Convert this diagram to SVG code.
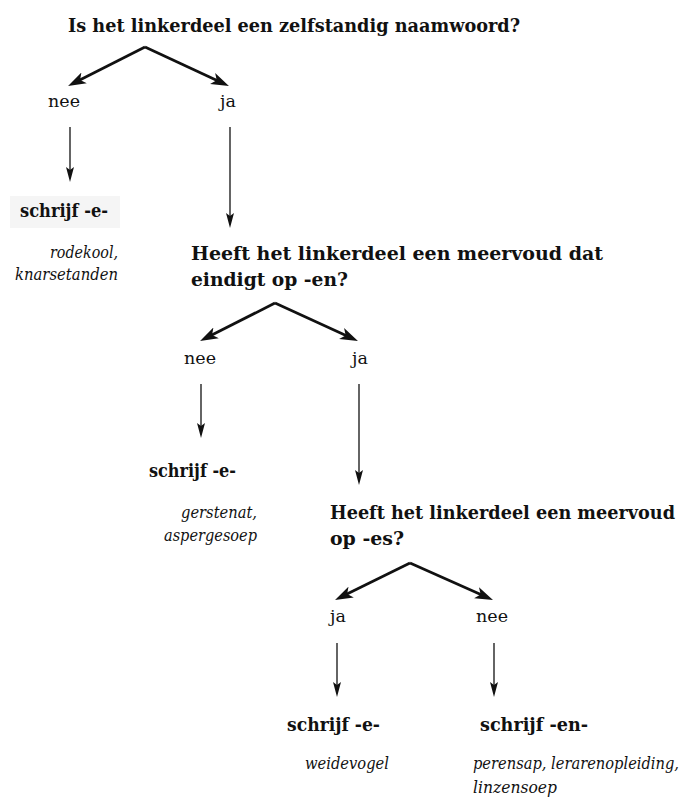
<svg xmlns="http://www.w3.org/2000/svg" width="686" height="803" viewBox="0 0 686 803">
<style>
.q{font-family:"DejaVu Serif Condensed","DejaVu Serif","Liberation Serif",serif;font-stretch:condensed;font-weight:bold;font-size:19px;fill:#111}
.r{font-family:"DejaVu Serif","Liberation Serif",serif;font-size:17.5px;fill:#111}
.i{font-family:"DejaVu Serif Condensed","DejaVu Serif","Liberation Serif",serif;font-stretch:condensed;font-style:italic;font-size:16.5px;fill:#111}
.thick{stroke:#111;stroke-width:2.7;fill:none;marker-end:url(#big)}
.thin{stroke:#111;stroke-width:1.3;fill:none;marker-end:url(#small)}
</style>
<defs>
<marker id="big" markerUnits="userSpaceOnUse" markerWidth="18" markerHeight="13" refX="12" refY="6.5" orient="auto">
<path d="M0,0.5 L18,6.5 L0,12.5 L4.5,6.5 z" fill="#111"/>
</marker>
<marker id="small" markerUnits="userSpaceOnUse" markerWidth="15" markerHeight="9" refX="10" refY="4.5" orient="auto">
<path d="M0,0.5 L15,4.5 L0,8.5 L3,4.5 z" fill="#111"/>
</marker>
</defs>
<rect width="686" height="803" fill="#fff"/>
<g id="q1"><text class="q" x="68" y="32" textLength="452" lengthAdjust="spacingAndGlyphs">Is het linkerdeel een zelfstandig naamwoord?</text></g>
<g id="nee1"><text class="r" x="64" y="107" text-anchor="middle">nee</text></g>
<g id="ja1"><text class="r" x="228" y="107" text-anchor="middle">ja</text></g>
<g id="e1"><rect x="10" y="196" width="110" height="32" fill="#f5f5f5"/><text class="q" x="20" y="217" textLength="88" lengthAdjust="spacingAndGlyphs">schrijf -e-</text></g>
<g id="ex1"><text class="i" x="118" y="258" text-anchor="end" textLength="68" lengthAdjust="spacingAndGlyphs">rodekool,</text><text class="i" x="118" y="280" text-anchor="end" textLength="103" lengthAdjust="spacingAndGlyphs">knarsetanden</text></g>
<g id="q2"><text class="q" x="191" y="260" textLength="412" lengthAdjust="spacingAndGlyphs">Heeft het linkerdeel een meervoud dat</text><text class="q" x="191" y="286" textLength="157" lengthAdjust="spacingAndGlyphs">eindigt op -en?</text></g>
<g id="nee2"><text class="r" x="200" y="364" text-anchor="middle">nee</text></g>
<g id="ja2"><text class="r" x="360" y="364" text-anchor="middle">ja</text></g>
<g id="e2"><text class="q" x="149" y="477" textLength="87" lengthAdjust="spacingAndGlyphs">schrijf -e-</text></g>
<g id="ex2"><text class="i" x="257" y="518" text-anchor="end" textLength="76" lengthAdjust="spacingAndGlyphs">gerstenat,</text><text class="i" x="257" y="541" text-anchor="end" textLength="93" lengthAdjust="spacingAndGlyphs">aspergesoep</text></g>
<g id="q3"><text class="q" x="330" y="519" textLength="345" lengthAdjust="spacingAndGlyphs">Heeft het linkerdeel een meervoud</text><text class="q" x="330" y="545" textLength="74" lengthAdjust="spacingAndGlyphs">op -es?</text></g>
<g id="ja3"><text class="r" x="338" y="622" text-anchor="middle">ja</text></g>
<g id="nee3"><text class="r" x="492" y="622" text-anchor="middle">nee</text></g>
<g id="e3"><text class="q" x="287" y="731" textLength="93" lengthAdjust="spacingAndGlyphs">schrijf -e-</text></g>
<g id="en4"><text class="q" x="480" y="731" textLength="108" lengthAdjust="spacingAndGlyphs">schrijf -en-</text></g>
<g id="ex3"><text class="i" x="305" y="769" textLength="84" lengthAdjust="spacingAndGlyphs">weidevogel</text></g>
<g id="ex4"><text class="i" x="473" y="769" textLength="206" lengthAdjust="spacingAndGlyphs">perensap, lerarenopleiding,</text><text class="i" x="473" y="793" textLength="84" lengthAdjust="spacingAndGlyphs">linzensoep</text></g>
<g id="connectors">
<path class="thick" d="M145,47 L73.4,83.3"/>
<path class="thick" d="M145,47 L223.5,83.5"/>
<path class="thin" d="M70,127 V177"/>
<path class="thin" d="M230,127 V223"/>
<path class="thick" d="M275,303 L205.4,338.3"/>
<path class="thick" d="M275,303 L352.5,338.5"/>
<path class="thin" d="M201,384 V433"/>
<path class="thin" d="M359,384 V480"/>
<path class="thick" d="M410,563 L340.4,597.3"/>
<path class="thick" d="M410,563 L487.5,597.6"/>
<path class="thin" d="M337,643 V692"/>
<path class="thin" d="M494,643 V692"/>
</g>
</svg>
